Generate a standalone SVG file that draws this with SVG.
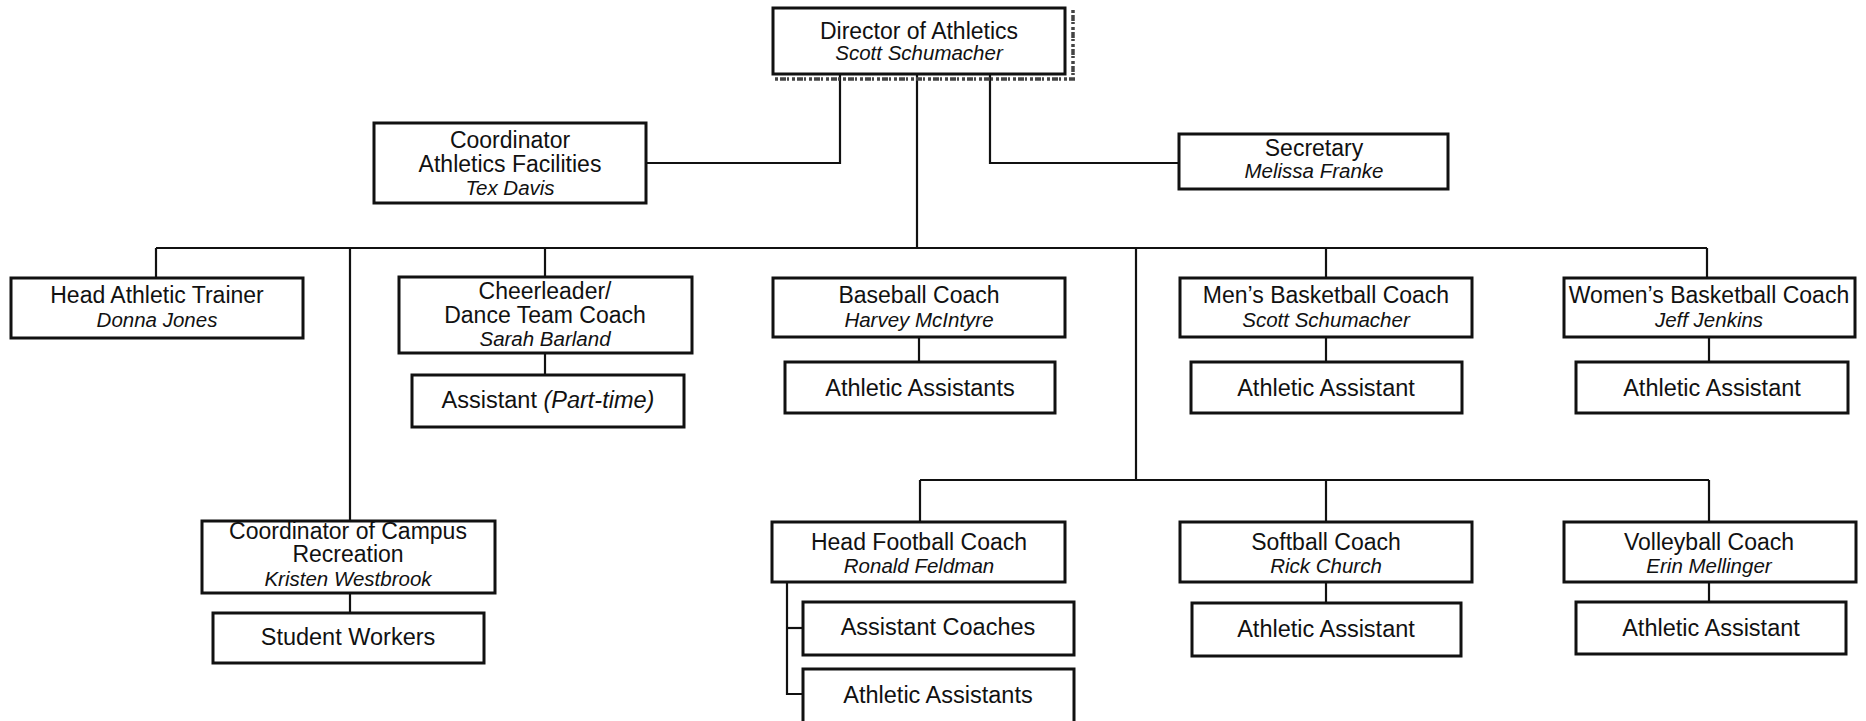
<svg xmlns="http://www.w3.org/2000/svg" width="1866" height="721" viewBox="0 0 1866 721">
<style>
.bg{fill:#fff}
.box{fill:#fff;stroke:#111;stroke-width:3}
.c{fill:none;stroke:#111;stroke-width:2.2}
.noise{fill:none;stroke:#444;stroke-width:3.5;stroke-dasharray:3 2 6 1 2 3}
text{font-family:"Liberation Sans",Arial,sans-serif;font-size:23px;text-anchor:middle;fill:#111}
.n{font-size:20.5px;font-style:italic}
.s{font-size:23.5px}
</style>
<rect class="bg" x="0" y="0" width="1866" height="721"/>
<g id="connectors">
<path class="c" d="M917 74V248"/>
<path class="c" d="M840 74V163H646"/>
<path class="c" d="M990 74V163H1179"/>
<path class="c" d="M156 248H1707"/>
<path class="c" d="M156 248V278"/>
<path class="c" d="M350 248V521"/>
<path class="c" d="M350 592V613"/>
<path class="c" d="M545 248V277"/>
<path class="c" d="M545 353V375"/>
<path class="c" d="M919 338V362"/>
<path class="c" d="M1136 248V480"/>
<path class="c" d="M1326 248V278"/>
<path class="c" d="M1326 337V362"/>
<path class="c" d="M1707 248V278"/>
<path class="c" d="M1709 337V362"/>
<path class="c" d="M920 480H1709"/>
<path class="c" d="M920 480V522"/>
<path class="c" d="M1326 480V522"/>
<path class="c" d="M1709 480V522"/>
<path class="c" d="M1326 582V603"/>
<path class="c" d="M1709 582V602"/>
<path class="c" d="M787 582V694H803"/>
<path class="c" d="M787 628H803"/>
</g>
<g id="scan-noise">
<path class="noise" d="M775 79H1075"/>
<path class="noise" d="M1073 10V80"/>
</g>
<g id="director">
<rect class="box" x="773" y="8" width="292" height="66"/>
<text x="919" y="39">Director of Athletics</text>
<text class="n" x="919" y="60">Scott Schumacher</text>
</g>
<g id="coord-facilities">
<rect class="box" x="374" y="123" width="272" height="80"/>
<text x="510" y="148">Coordinator</text>
<text x="510" y="172">Athletics Facilities</text>
<text class="n" x="510" y="195">Tex Davis</text>
</g>
<g id="secretary">
<rect class="box" x="1179" y="134" width="269" height="55"/>
<text x="1314" y="156">Secretary</text>
<text class="n" x="1314" y="178">Melissa Franke</text>
</g>
<g id="head-trainer">
<rect class="box" x="11" y="278" width="292" height="60"/>
<text x="157" y="303">Head Athletic Trainer</text>
<text class="n" x="157" y="327">Donna Jones</text>
</g>
<g id="cheer">
<rect class="box" x="399" y="277" width="293" height="76"/>
<text x="545" y="299">Cheerleader/</text>
<text x="545" y="323">Dance Team Coach</text>
<text class="n" x="545" y="346">Sarah Barland</text>
</g>
<g id="cheer-assistant">
<rect class="box" x="412" y="375" width="272" height="52"/>
<text class="s" x="548" y="408">Assistant <tspan font-style="italic">(Part-time)</tspan></text>
</g>
<g id="baseball">
<rect class="box" x="773" y="278" width="292" height="59"/>
<text x="919" y="303">Baseball Coach</text>
<text class="n" x="919" y="327">Harvey McIntyre</text>
</g>
<g id="baseball-assistants">
<rect class="box" x="785" y="362" width="270" height="51"/>
<text class="s" x="920" y="396">Athletic Assistants</text>
</g>
<g id="mens-basketball">
<rect class="box" x="1180" y="278" width="292" height="59"/>
<text x="1326" y="303">Men’s Basketball Coach</text>
<text class="n" x="1326" y="327">Scott Schumacher</text>
</g>
<g id="mens-assistant">
<rect class="box" x="1191" y="362" width="271" height="51"/>
<text class="s" x="1326" y="396">Athletic Assistant</text>
</g>
<g id="womens-basketball">
<rect class="box" x="1564" y="278" width="291" height="59"/>
<text x="1709" y="303">Women’s Basketball Coach</text>
<text class="n" x="1709" y="327">Jeff Jenkins</text>
</g>
<g id="womens-assistant">
<rect class="box" x="1576" y="362" width="272" height="51"/>
<text class="s" x="1712" y="396">Athletic Assistant</text>
</g>
<g id="campus-rec">
<rect class="box" x="202" y="521" width="293" height="72"/>
<text x="348" y="539">Coordinator of Campus</text>
<text x="348" y="562">Recreation</text>
<text class="n" x="348" y="586">Kristen Westbrook</text>
</g>
<g id="student-workers">
<rect class="box" x="213" y="613" width="271" height="50"/>
<text class="s" x="348" y="645">Student Workers</text>
</g>
<g id="football">
<rect class="box" x="772" y="522" width="293" height="60"/>
<text x="919" y="550">Head Football Coach</text>
<text class="n" x="919" y="573">Ronald Feldman</text>
</g>
<g id="assistant-coaches">
<rect class="box" x="803" y="602" width="271" height="53"/>
<text class="s" x="938" y="635">Assistant Coaches</text>
</g>
<g id="football-assistants">
<rect class="box" x="803" y="669" width="271" height="60"/>
<text class="s" x="938" y="703">Athletic Assistants</text>
</g>
<g id="softball">
<rect class="box" x="1180" y="522" width="292" height="60"/>
<text x="1326" y="550">Softball Coach</text>
<text class="n" x="1326" y="573">Rick Church</text>
</g>
<g id="softball-assistant">
<rect class="box" x="1192" y="603" width="269" height="53"/>
<text class="s" x="1326" y="637">Athletic Assistant</text>
</g>
<g id="volleyball">
<rect class="box" x="1564" y="522" width="292" height="60"/>
<text x="1709" y="550">Volleyball Coach</text>
<text class="n" x="1709" y="573">Erin Mellinger</text>
</g>
<g id="volleyball-assistant">
<rect class="box" x="1576" y="602" width="270" height="52"/>
<text class="s" x="1711" y="636">Athletic Assistant</text>
</g>
</svg>
